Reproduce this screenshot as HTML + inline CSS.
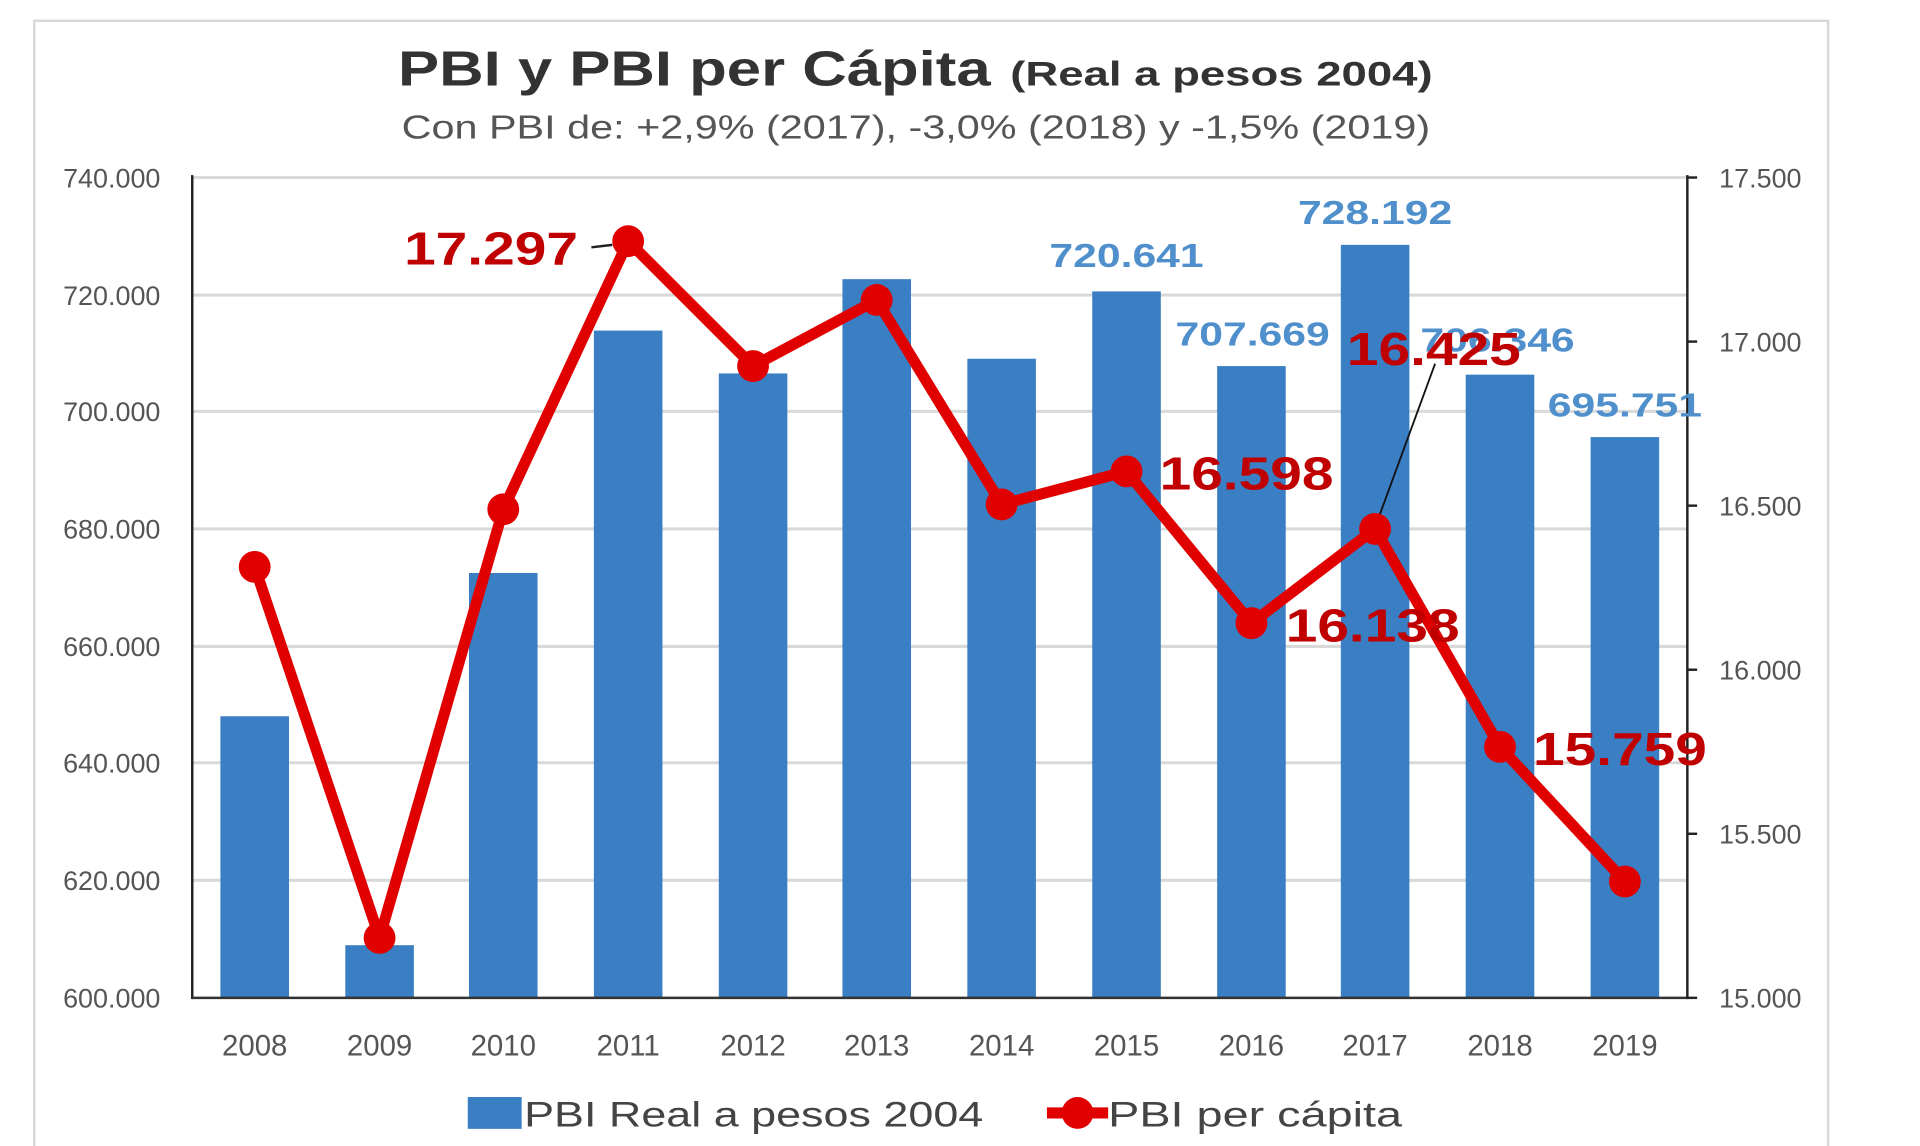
<!DOCTYPE html>
<html><head><meta charset="utf-8"><style>
html,body{margin:0;padding:0;background:#fff;width:1920px;height:1146px;overflow:hidden}
svg{display:block}
text{font-family:"Liberation Sans",sans-serif}
</style></head><body>
<svg width="1920" height="1146" viewBox="0 0 1568 936" preserveAspectRatio="none" xmlns="http://www.w3.org/2000/svg">
<rect x="0" y="0" width="1568" height="936" fill="#fff"/>
<path d="M28,936 V17 H1493 V936" fill="none" stroke="#d8d8d8" stroke-width="2"/>
<text x="325" y="70" font-size="40" font-weight="bold" fill="#333" textLength="484" lengthAdjust="spacingAndGlyphs">PBI y PBI per Cápita</text>
<text x="825" y="70" font-size="28" font-weight="bold" fill="#333" textLength="345" lengthAdjust="spacingAndGlyphs">(Real a pesos 2004)</text>
<text x="328" y="113" font-size="27" fill="#555" textLength="840" lengthAdjust="spacingAndGlyphs">Con PBI de: +2,9% (2017), -3,0% (2018) y -1,5% (2019)</text>
<g stroke="#d9d9d9" stroke-width="2.5">
<line x1="157" x2="1378" y1="145" y2="145"/><line x1="157" x2="1378" y1="241" y2="241"/>
<line x1="157" x2="1378" y1="336" y2="336"/><line x1="157" x2="1378" y1="432" y2="432"/>
<line x1="157" x2="1378" y1="528" y2="528"/><line x1="157" x2="1378" y1="623" y2="623"/>
<line x1="157" x2="1378" y1="719" y2="719"/>
</g>
<g fill="#555" font-size="22" text-anchor="end">
<text x="131" y="153">740.000</text><text x="131" y="249">720.000</text><text x="131" y="344">700.000</text>
<text x="131" y="440">680.000</text><text x="131" y="536">660.000</text><text x="131" y="631">640.000</text>
<text x="131" y="727">620.000</text><text x="131" y="823">600.000</text>
</g>
<g fill="#555" font-size="22">
<text x="1404" y="153">17.500</text><text x="1404" y="287">17.000</text><text x="1404" y="421">16.500</text>
<text x="1404" y="555">16.000</text><text x="1404" y="689">15.500</text><text x="1404" y="823">15.000</text>
</g>
<g fill="#3a7ec3">
<rect x="180" y="585" width="56" height="230"/><rect x="282" y="772" width="56" height="43"/>
<rect x="383" y="468" width="56" height="347"/><rect x="485" y="270" width="56" height="545"/>
<rect x="587" y="305" width="56" height="510"/><rect x="688" y="228" width="56" height="587"/>
<rect x="790" y="293" width="56" height="522"/><rect x="892" y="238" width="56" height="577"/>
<rect x="994" y="299" width="56" height="516"/><rect x="1095" y="200" width="56" height="615"/>
<rect x="1197" y="306" width="56" height="509"/><rect x="1299" y="357" width="56" height="458"/>
</g>
<line x1="157" y1="143" x2="157" y2="816" stroke="#222" stroke-width="2"/>
<line x1="157" y1="815" x2="1378" y2="815" stroke="#333" stroke-width="2"/>
<line x1="1378" y1="143" x2="1378" y2="816" stroke="#222" stroke-width="2"/>
<g stroke="#222" stroke-width="2">
<line x1="1378" x2="1386" y1="145" y2="145"/><line x1="1378" x2="1386" y1="279" y2="279"/>
<line x1="1378" x2="1386" y1="413" y2="413"/><line x1="1378" x2="1386" y1="547" y2="547"/>
<line x1="1378" x2="1386" y1="681" y2="681"/><line x1="1378" x2="1386" y1="815" y2="815"/>
</g>
<g fill="#555" font-size="24" text-anchor="middle">
<text x="208" y="862">2008</text><text x="310" y="862">2009</text><text x="411" y="862">2010</text>
<text x="513" y="862">2011</text><text x="615" y="862">2012</text><text x="716" y="862">2013</text>
<text x="818" y="862">2014</text><text x="920" y="862">2015</text><text x="1022" y="862">2016</text>
<text x="1123" y="862">2017</text><text x="1225" y="862">2018</text><text x="1327" y="862">2019</text>
</g>
<g fill="#4f8fcc" font-size="27" font-weight="bold">
<text x="857" y="218" textLength="126" lengthAdjust="spacingAndGlyphs">720.641</text>
<text x="1060" y="183" textLength="126" lengthAdjust="spacingAndGlyphs">728.192</text>
<text x="960" y="282" textLength="126" lengthAdjust="spacingAndGlyphs">707.669</text>
<text x="1160" y="287" textLength="126" lengthAdjust="spacingAndGlyphs">706.346</text>
<text x="1264" y="340" textLength="126" lengthAdjust="spacingAndGlyphs">695.751</text>
</g>
<line x1="1172" y1="297" x2="1124" y2="428" stroke="#111" stroke-width="1.5"/>
<line x1="483" y1="202" x2="500" y2="200" stroke="#222" stroke-width="2"/>
<polyline points="208,463 310,766 411,416 513,197 615,299 716,245 818,412 920,385 1022,509 1123,432 1225,610 1327,720" fill="none" stroke="#e00000" stroke-width="9" stroke-linejoin="round"/>
<g fill="#e00000">
<circle cx="208" cy="463" r="13"/><circle cx="310" cy="766" r="13"/><circle cx="411" cy="416" r="13"/>
<circle cx="513" cy="197" r="13"/><circle cx="615" cy="299" r="13"/><circle cx="716" cy="245" r="13"/>
<circle cx="818" cy="412" r="13"/><circle cx="920" cy="385" r="13"/><circle cx="1022" cy="509" r="13"/>
<circle cx="1123" cy="432" r="13"/><circle cx="1225" cy="610" r="13"/><circle cx="1327" cy="720" r="13"/>
</g>
<g fill="#c00000" font-size="38" font-weight="bold">
<text x="330" y="216" textLength="142" lengthAdjust="spacingAndGlyphs">17.297</text>
<text x="947" y="400" textLength="142" lengthAdjust="spacingAndGlyphs">16.598</text>
<text x="1050" y="524" textLength="142" lengthAdjust="spacingAndGlyphs">16.138</text>
<text x="1100" y="298" textLength="142" lengthAdjust="spacingAndGlyphs">16.425</text>
<text x="1252" y="625" textLength="142" lengthAdjust="spacingAndGlyphs">15.759</text>
</g>
<rect x="382" y="896" width="44" height="26" fill="#3a7ec3"/>
<text x="428" y="920" font-size="29" fill="#444" textLength="375" lengthAdjust="spacingAndGlyphs">PBI Real a pesos 2004</text>
<line x1="855" y1="909" x2="905" y2="909" stroke="#e00000" stroke-width="9"/>
<circle cx="880" cy="909" r="13" fill="#e00000"/>
<text x="905" y="920" font-size="29" fill="#444" textLength="240" lengthAdjust="spacingAndGlyphs">PBI per cápita</text>
</svg>
</body></html>
